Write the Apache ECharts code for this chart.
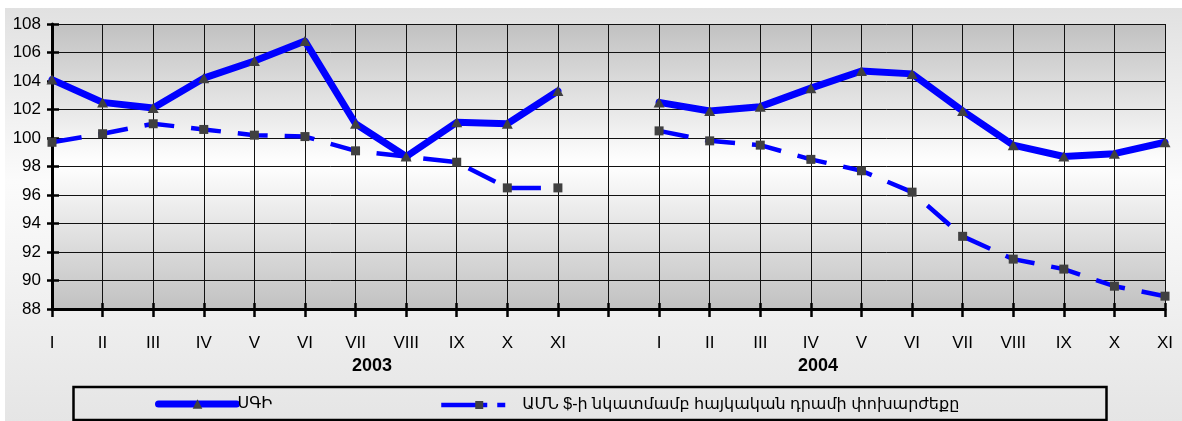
<!DOCTYPE html>
<html>
<head>
<meta charset="utf-8">
<script src="https://cdn.jsdelivr.net/npm/echarts@6/dist/echarts.min.js"></script>
<style>
html,body{margin:0;padding:0;background:#fff;}
#c{width:1182px;height:421px;}
</style>
</head>
<body>
<div id="c"></div>
<script>
var categories = ['I','II','III','IV','V','VI','VII','VIII','IX','X','XI','',
                  'I','II','III','IV','V','VI','VII','VIII','IX','X','XI'];
var yearLabels = ['2003','2004'];
var cpiName = 'ՍԳԻ';
var fxName = 'ԱՄՆ $-ի նկատմամբ հայկական դրամի փոխարժեքը';
var cpi = [104.1,102.5,102.1,104.2,105.4,106.8,101.0,98.7,101.1,101.0,103.3,null,
           102.5,101.9,102.2,103.5,104.7,104.5,101.9,99.5,98.7,98.9,99.7];
var fx  = [99.7,100.3,101.0,100.6,100.2,100.1,99.1,98.7,98.3,96.5,96.5,null,
           100.5,99.8,99.5,98.5,97.7,96.2,93.1,91.5,90.8,89.6,88.9];
var yMin = 88, yMax = 108, yStep = 2;

var FONT = '"Liberation Sans", Arial, "DejaVu Sans", sans-serif';
var chart = echarts.init(document.getElementById('c'), null, {renderer:'canvas'});
var G = echarts.graphic;

chart.setOption({
  animation: false,
  backgroundColor: '#ffffff',
  textStyle: {fontFamily: FONT},
  graphic: [
    {type:'rect', z:-10, silent:true, shape:{x:5,y:8,width:1177,height:413},
     style:{fill: new G.LinearGradient(0,0,0,1,[
       {offset:0,color:'#e1e1e1'},{offset:0.42,color:'#fbfbfb'},{offset:1,color:'#e5e5e5'}])}},
    {type:'rect', z:5, silent:true, shape:{x:73.5,y:387,width:1033,height:33},
     style:{fill:'none', stroke:'#000', lineWidth:2.5}},
    {type:'text', z:10, x:372, y:366, style:{text:yearLabels[0], font:'bold 18px '+FONT, fill:'#000', align:'center', verticalAlign:'middle'}},
    {type:'text', z:10, x:818, y:366, style:{text:yearLabels[1], font:'bold 18px '+FONT, fill:'#000', align:'center', verticalAlign:'middle'}}
  ],
  grid: {left:52, right:17, top:24, bottom:112, show:true, borderWidth:0,
    backgroundColor: new G.LinearGradient(0,0,0,1,[
      {offset:0,color:'#c1c1c1'},{offset:0.49,color:'#ffffff'},{offset:1,color:'#c1c1c1'}])},
  legend: [
    {data:[cpiName], left:155, top:396, itemWidth:78, itemHeight:12, itemGap:0, padding:0,
     lineStyle:{width:7, color:'#0000ff', cap:'round'},
     itemStyle:{color:'#404040'},
     textStyle:{fontSize:16, color:'#000', fontFamily:FONT, padding:[0,0,0,-4]}},
    {data:[fxName], left:439, top:397, itemWidth:76, itemHeight:10, itemGap:0, padding:0,
     lineStyle:{width:4.5, color:'#0000ff', type:[46,10,8,20]},
     itemStyle:{color:'#404040'},
     textStyle:{fontSize:16, color:'#000', fontFamily:FONT, padding:[0,0,0,0]}}
  ],
  xAxis: [
    {type:'category', data:categories, boundaryGap:false,
     axisLine:{show:true, lineStyle:{color:'#000', width:3}},
     axisTick:{show:true, inside:false, length:8, lineStyle:{color:'#000', width:2.5}},
     axisLabel:{color:'#000', fontSize:17, margin:26, interval:0, fontFamily:FONT},
     splitLine:{show:true, lineStyle:{color:'#111', width:1}}},
    {type:'category', data:categories, boundaryGap:false, position:'bottom',
     axisLine:{show:false},
     axisTick:{show:true, inside:true, length:6, lineStyle:{color:'#000', width:2.5}},
     axisLabel:{show:false}, splitLine:{show:false}}
  ],
  yAxis: [
    {type:'value', min:yMin, max:yMax, interval:yStep,
     axisLine:{show:true, lineStyle:{color:'#000', width:3}},
     axisTick:{show:true, inside:false, length:5, lineStyle:{color:'#000', width:2.5}},
     axisLabel:{color:'#000', fontSize:17, margin:11, fontFamily:FONT},
     splitLine:{show:true, lineStyle:{color:'#111', width:1}}},
    {type:'value', min:yMin, max:yMax, interval:yStep, position:'left',
     axisLine:{show:false},
     axisTick:{show:true, inside:true, length:7, lineStyle:{color:'#000', width:2.5}},
     axisLabel:{show:false}, splitLine:{show:false}}
  ],
  series: [
    {name:fxName, type:'line', data:fx, xAxisIndex:0, yAxisIndex:0, z:3,
     symbol:'rect', symbolSize:9, connectNulls:false,
     itemStyle:{color:'#404040', borderWidth:0},
     lineStyle:{color:'#0000ff', width:4.5, type:[30,17]}},
    {name:cpiName, type:'line', data:cpi, xAxisIndex:0, yAxisIndex:0, z:4,
     symbol:'triangle', symbolSize:[11,10], connectNulls:false,
     itemStyle:{color:'#404040', borderWidth:0},
     lineStyle:{color:'#0000ff', width:7, cap:'round', join:'round'}}
  ]
});
</script>
</body>
</html>
